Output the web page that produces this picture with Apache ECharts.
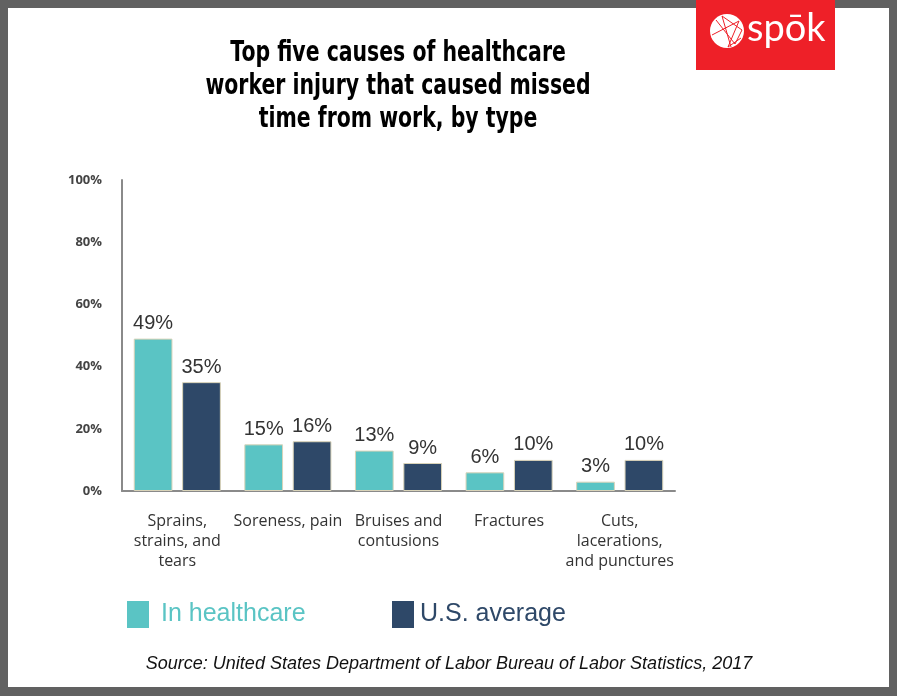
<!DOCTYPE html>
<html><head><meta charset="utf-8">
<script src="https://cdn.jsdelivr.net/npm/echarts@6/dist/echarts.min.js"></script>
<style>html,body{margin:0;padding:0;background:#616161;}#c{width:897px;height:696px;}</style>
</head><body><div id="c"></div>
<script>
var categories = ['Sprains,\nstrains, and\ntears', 'Soreness, pain', 'Bruises and\ncontusions', 'Fractures', 'Cuts,\nlacerations,\nand punctures'];
var healthcare = [49, 15, 13, 6, 3];
var usAverage = [35, 16, 9, 10, 10];
var yTicks = [0, 20, 40, 60, 80, 100];
var titleText = 'Top five causes of healthcare\nworker injury that caused missed\ntime from work, by type';
var sourceText = 'Source: United States Department of Labor Bureau of Labor Statistics, 2017';

var chart = echarts.init(document.getElementById('c'));
var teal = '#5ac4c4', navy = '#2e4868';
chart.setOption({
  backgroundColor: '#616161',
  animation: false,
  graphic: [
    {type:'rect', shape:{x:8,y:8,width:881,height:679}, style:{fill:'#ffffff'}, z:-10},
    {type:'rect', shape:{x:696,y:0,width:139,height:70}, style:{fill:'#ee2028'}, z:1},
    {type:'circle', shape:{cx:727,cy:31,r:17}, style:{fill:'#ffffff'}, z:2},
    {type:'polyline', shape:{points:[[716,20],[735,44],[742,30],[722,16],[731,47]]}, style:{stroke:'#ee2028',lineWidth:1,fill:null}, z:3},
    {type:'polyline', shape:{points:[[712,35],[739,21],[728,47],[741,38]]}, style:{stroke:'#ee2028',lineWidth:1,fill:null}, z:3},
    {type:'text', x:747, y:10, style:{text:'spōk', fill:'#ffffff', font:'38px Lato, sans-serif'}, z:3},
    {type:'text', x:398, y:37, scaleX:0.73, style:{text:titleText, x:0, y:0, fill:'#000', align:'center', verticalAlign:'top', lineHeight:33, font:'bold 28px "DejaVu Sans", sans-serif'}, z:3},
    {type:'text', x:449, y:664, style:{text:sourceText, fill:'#111', font:'italic 18px "Liberation Sans", Arial, sans-serif', align:'center', verticalAlign:'middle'}}
  ],
  legend: [
    {left:122, top:596, itemWidth:22, itemHeight:27, icon:'rect', selectedMode:false, itemStyle:{borderWidth:0},
     data:[{name:'In healthcare', textStyle:{color:teal}}], textStyle:{fontSize:25, padding:[6,0,0,7], fontFamily:'"Liberation Sans", Arial, sans-serif'}},
    {left:387, top:596, itemWidth:22, itemHeight:27, icon:'rect', selectedMode:false, itemStyle:{borderWidth:0},
     data:[{name:'U.S. average', textStyle:{color:navy}}], textStyle:{fontSize:25, padding:[6,0,0,1], fontFamily:'"Liberation Sans", Arial, sans-serif'}}
  ],
  grid: {left:122, right:222, top:180, bottom:205},
  xAxis: {
    type:'category', data:categories,
    axisLine:{lineStyle:{color:'#8a8a8a', width:2}},
    axisTick:{show:false},
    axisLabel:{color:'#333', fontSize:16, lineHeight:20, margin:20, fontFamily:'"Open Sans", sans-serif', interval:0}
  },
  yAxis: {
    type:'value', min:0, max:100, interval:20,
    axisLine:{show:true, lineStyle:{color:'#8a8a8a', width:2}},
    axisTick:{show:false},
    splitLine:{show:false},
    axisLabel:{color:'#444', fontSize:13, fontWeight:'bold', margin:20, fontFamily:'"Open Sans", sans-serif', formatter:'{value}%'}
  },
  series: [
    {name:'In healthcare', type:'bar', data:healthcare, barWidth:'35%', barGap:'25%',
     itemStyle:{color:teal, borderColor:'#d9d3b8', borderWidth:1},
     label:{show:true, position:'top', formatter:'{c}%', color:'#333', fontSize:20, fontFamily:'"Liberation Sans", Arial, sans-serif', distance:5}},
    {name:'U.S. average', type:'bar', data:usAverage, barWidth:'35%',
     itemStyle:{color:navy, borderColor:'#d9d3b8', borderWidth:1},
     label:{show:true, position:'top', formatter:'{c}%', color:'#333', fontSize:20, fontFamily:'"Liberation Sans", Arial, sans-serif', distance:5}}
  ]
});
</script></body></html>
